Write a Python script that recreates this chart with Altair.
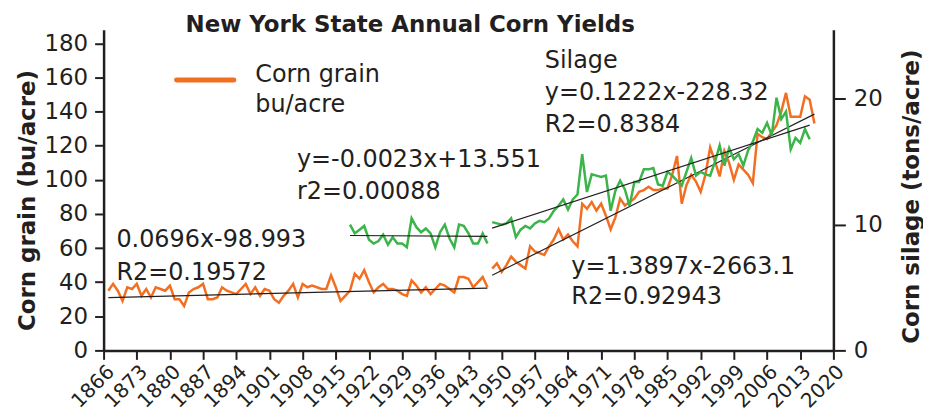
import altair as alt
import pandas as pd

# ---------------- data ----------------
grain1_start = 1867
grain1 = [35, 39, 35, 29, 37, 36, 39, 32, 36, 31, 37, 36, 35, 38, 30, 30, 26, 34, 36, 37,
          39, 30, 30, 31, 37, 35, 34, 33, 36, 39, 33, 37, 32, 36, 35, 30, 28, 32, 35, 39,
          31, 39, 37, 38, 37,
          36, 36, 44, 37, 29, 32, 35, 45, 42, 47, 40, 34, 37, 39, 36, 36, 35, 33, 32, 41,
          38, 34, 37, 33, 36, 39, 38, 36, 34, 43, 43, 42, 37, 40, 43, 37]

grain2_start = 1948
grain2 = [48, 51, 46, 50, 55, 52, 50, 48, 61, 58, 57, 56, 61, 65, 71, 65, 68, 64, 61, 86,
          83, 87, 82, 86, 79, 71, 78, 89, 85, 87, 89, 93, 94, 96, 94, 94, 95, 95, 103, 114,
          86, 97, 103, 99, 93, 103, 119, 111, 102, 117, 110, 100, 109, 106, 103, 98, 127, 125, 124, 128,
          132, 140, 151, 137, 137, 137, 149, 147, 133]

silage1_start = 1918
silage1 = [10.0, 9.3, 9.6, 9.9, 8.8, 8.5, 8.7, 9.2, 8.4, 9.0, 8.5, 8.5, 8.2, 10.5, 9.8,
           9.4, 9.7, 9.3, 8.2, 9.4, 10.0, 8.9, 8.2, 10.0, 9.9, 9.3, 8.5, 8.5, 9.3, 8.5]

silage2_start = 1948
silage2 = [10.2, 10.1, 10.0, 10.1, 10.5, 9.0, 9.6, 9.9, 9.7, 10.1, 10.3, 10.2, 10.5, 11.1, 11.5,
           12.0, 11.2, 12.0, 12.4, 15.6, 12.6, 14.0, 13.9, 13.8, 13.9, 11.1, 12.7, 13.5, 12.8, 11.5,
           13.4, 13.4, 14.4, 14.4, 14.5, 13.2, 13.1, 14.2, 13.9, 13.5, 13.1, 14.2, 15.3, 13.9, 14.2,
           14.0, 13.9, 15.0, 16.3, 14.7, 16.1, 15.2, 15.6, 14.7, 15.9, 16.6, 17.6, 17.3, 18.1, 17.1,
           20.1, 18.4, 19.0, 16.0, 16.9, 16.5, 17.6, 16.8]

# trend lines (given equations)
trend_names = ["grain1", "grain2", "silage1", "silage2"]
trend_slope = [0.0696, 1.3897, -0.0023, 0.1222]
trend_intercept = [-98.993, -2663.1, 13.551, -228.32]

x_ticks = [1866, 1873, 1880, 1887, 1894, 1901, 1908, 1915, 1922, 1929, 1936, 1943,
           1950, 1957, 1964, 1971, 1978, 1985, 1992, 1999, 2006, 2013, 2020]
grain_ticks = [0, 20, 40, 60, 80, 100, 120, 140, 160, 180]
silage_ticks = [0, 10, 20]

# annotations (text, year, grain-axis value)
ann_text = ["0.0696x-98.993", "R2=0.19572", "y=-0.0023x+13.551", "r2=0.00088",
            "Silage", "y=0.1222x-228.32", "R2=0.8384", "y=1.3897x-2663.1", "R2=0.92943",
            "Corn grain", "bu/acre"]
ann_year = [1868.7, 1868.7, 1906.8, 1906.8, 1959.1, 1959.1, 1959.1, 1964.7, 1964.7, 1898.0, 1898.0]
ann_value = [60.9, 41.5, 107.8, 88.9, 165.6, 146.9, 128.3, 45.0, 27.2, 157.6, 140.0]

title_text = ["New York State Annual Corn Yields"]
title_year = [1930.7]
title_value = [186.8]

legend_year = [1881.4]
legend_year2 = [1893.5]
legend_value = [158.6]

ORANGE = "#F26F21"
GREEN = "#3BB44A"
INK = "#231F20"
FONT = "DejaVu Sans"


def series_frame(name, start, vals):
    return pd.DataFrame({"year": [start + i for i in range(len(vals))],
                         "value": vals, "series": name})


grain_df = pd.concat([series_frame("grain1", grain1_start, grain1),
                      series_frame("grain2", grain2_start, grain2)])
silage_df = pd.concat([series_frame("silage1", silage1_start, silage1),
                       series_frame("silage2", silage2_start, silage2)])

spans = {"grain1": (grain1_start, grain1_start + len(grain1) - 1),
         "grain2": (grain2_start, grain2_start + len(grain2) - 1),
         "silage1": (silage1_start, silage1_start + len(silage1) - 1),
         "silage2": (silage2_start, silage2_start + len(silage2) - 1)}
rows = []
for n, m, b in zip(trend_names, trend_slope, trend_intercept):
    for yr in spans[n]:
        rows.append({"series": n, "year": yr, "value": m * yr + b})
trend_df = pd.DataFrame(rows)
grain_trend = trend_df[trend_df.series.str.startswith("grain")]
silage_trend = trend_df[trend_df.series.str.startswith("silage")]

ann_df = pd.DataFrame({"label": ann_text, "year": ann_year, "value": ann_value})
title_df = pd.DataFrame({"label": title_text, "year": title_year, "value": title_value})
legend_df = pd.DataFrame({"year": legend_year, "year2": legend_year2, "value": legend_value})

# ---------------- encodings ----------------
X = alt.X("year:Q",
          scale=alt.Scale(domain=[1866, 2020], nice=False, zero=False),
          axis=alt.Axis(values=x_ticks, format="d", labelAngle=-45, title=None,
                        labelAlign="right", labelBaseline="top", labelPadding=2,
                        labelOverlap=False, labelFontSize=20, tickSize=9))

Y_GRAIN = alt.Y("value:Q",
                scale=alt.Scale(domain=[0, 188], nice=False),
                axis=alt.Axis(values=grain_ticks, orient="left", title="Corn grain (bu/acre)",
                              labelFontSize=23, tickSize=9, labelPadding=7,
                              titleAngle=270, titleX=-76, titleY=171,
                              titleAlign="center", titleBaseline="middle"))

Y_SILAGE = alt.Y("value:Q",
                 scale=alt.Scale(domain=[0, 25.5], nice=False),
                 axis=alt.Axis(values=silage_ticks, orient="right", title="Corn silage (tons/acre)",
                               labelFontSize=23, tickSize=12, labelPadding=8,
                               titleAngle=270, titleX=78, titleY=167,
                               titleAlign="center", titleBaseline="middle"))

grain_lines = alt.Chart(grain_df).mark_line(color=ORANGE, strokeWidth=2.5).encode(
    x=X, y=Y_GRAIN, detail="series:N")
grain_trend_lines = alt.Chart(grain_trend).mark_line(color=INK, strokeWidth=1.2).encode(
    x=X, y=Y_GRAIN, detail="series:N")
ann = alt.Chart(ann_df).mark_text(align="left", baseline="alphabetic", fontSize=24,
                                  font=FONT, color=INK).encode(x=X, y=Y_GRAIN, text="label:N")
title = alt.Chart(title_df).mark_text(align="center", baseline="alphabetic", fontSize=23,
                                      fontWeight="bold", font=FONT, color=INK).encode(
    x=X, y=Y_GRAIN, text="label:N")
legend = alt.Chart(legend_df).mark_rule(color=ORANGE, strokeWidth=5, strokeCap="round").encode(
    x=X, x2="year2:Q", y=Y_GRAIN)

grain_layer = alt.layer(grain_lines, grain_trend_lines, ann, title, legend)

silage_lines = alt.Chart(silage_df).mark_line(color=GREEN, strokeWidth=2.5).encode(
    x=X, y=Y_SILAGE, detail="series:N")
silage_trend_lines = alt.Chart(silage_trend).mark_line(color=INK, strokeWidth=1.2).encode(
    x=X, y=Y_SILAGE, detail="series:N")
silage_layer = alt.layer(silage_lines, silage_trend_lines)

chart = alt.layer(grain_layer, silage_layer).resolve_scale(y="independent").properties(
    width=733, height=322,
    padding={"left": 96, "top": 21, "right": 90, "bottom": 61},
    autosize=alt.AutoSizeParams(type="none"),
    background="white",
).configure_view(stroke=None).configure_axis(
    grid=False, domainColor=INK, domainWidth=2.5, tickColor=INK, tickWidth=2,
    labelColor=INK, labelFont=FONT, titleFont=FONT, titleFontSize=23,
    titleFontWeight="bold", titleColor=INK,
)

chart.save("out.html", embed_options={"renderer": "svg", "actions": False})
